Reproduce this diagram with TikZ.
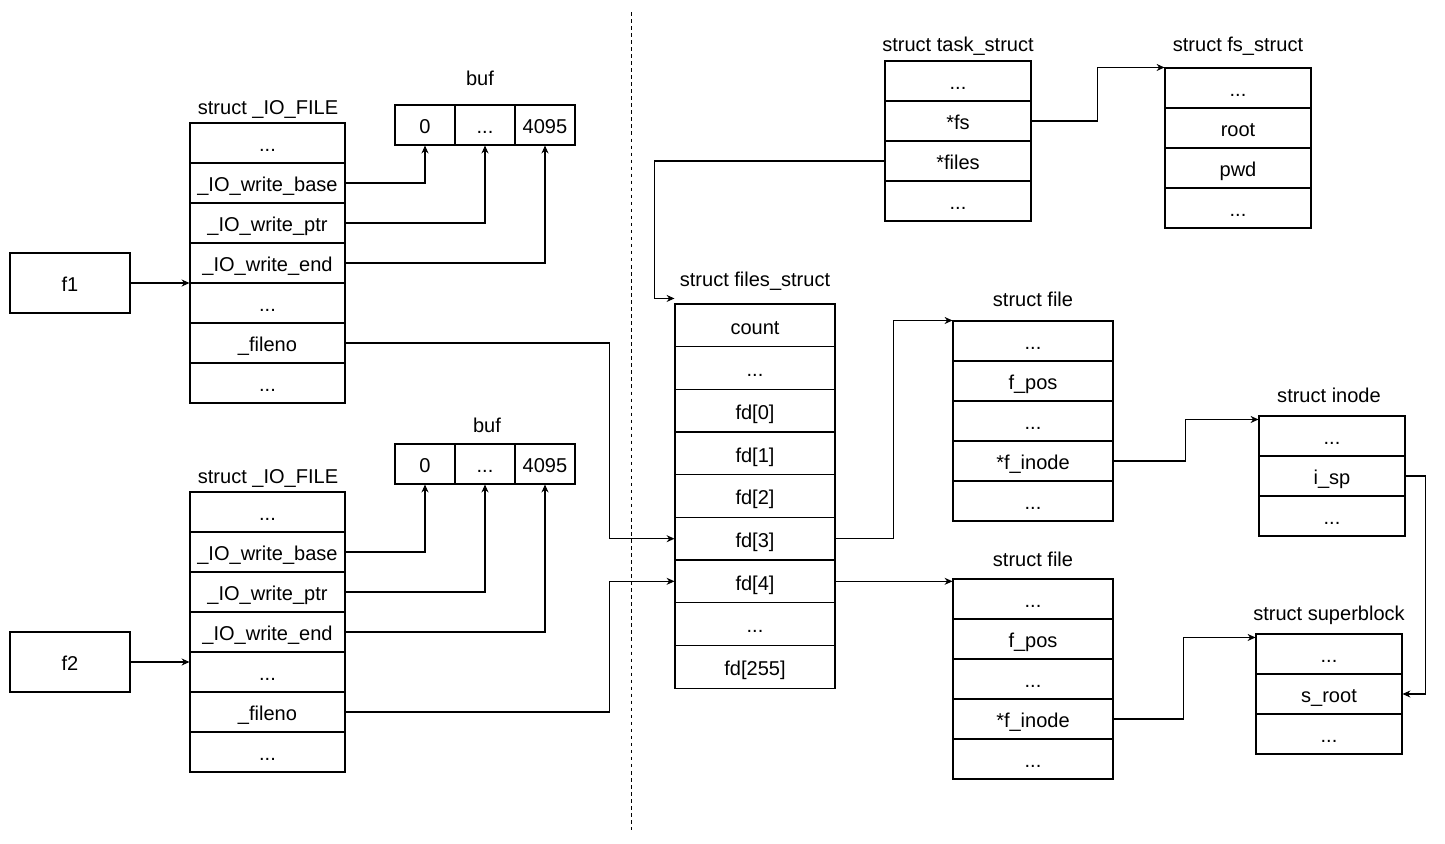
\documentclass[tikz,border=0pt]{standalone}
\usepackage{fontspec}
\setmainfont{Liberation Sans}
\usetikzlibrary{arrows.meta}

\begin{document}
\begin{tikzpicture}[x=0.02cm, y=-0.02cm, line width=0.6pt,
        font=\fontsize{11.4}{13}\selectfont,
        >={Stealth[length=4.5pt,width=4pt]},
        cell/.style = {draw, inner sep=0pt, minimum height=0.8cm, text height=10.4pt, text depth=0.5pt},
        iorow/.style = {cell, minimum width=3.1cm},
        bufcell/.style = {cell, minimum width=1.2cm},
        ptrbox/.style = {cell, minimum width=2.4cm, minimum height=1.2cm},
        taskrow/.style = {cell, minimum width=2.92cm},
        fdrow/.style = {cell, minimum width=3.2cm, minimum height=0.8533cm},
        filerow/.style = {cell, minimum width=3.2cm},
        title/.style = {inner sep=0pt, text height=8.2pt, text depth=0pt}]
        \useasboundingbox (0,0) rectangle (1445,843);
        % user space
        \node[ptrbox] (f1) at (70,283) {f1};
        \node[ptrbox] (f2) at (70,662) {f2};

        \node[title] (io1t) at (268,107.5) {struct \_IO\_FILE};
        \node[iorow] (io1-1) at (267.5,143) {...};
        \node[iorow] (io1-2) at (267.5,183) {\_IO\_write\_base};
        \node[iorow] (io1-3) at (267.5,223) {\_IO\_write\_ptr};
        \node[iorow] (io1-4) at (267.5,263) {\_IO\_write\_end};
        \node[iorow] (io1-5) at (267.5,303) {...};
        \node[iorow] (io1-6) at (267.5,343) {\_fileno};
        \node[iorow] (io1-7) at (267.5,383) {...};

        \node[title] (b1t) at (480,78) {buf};
        \node[bufcell] (b1-1) at (425,125) {0};
        \node[bufcell] (b1-2) at (485,125) {...};
        \node[bufcell] (b1-3) at (545,125) {4095};

        \node[title] (io2t) at (268,476) {struct \_IO\_FILE};
        \node[iorow] (io2-1) at (267.5,512) {...};
        \node[iorow] (io2-2) at (267.5,552) {\_IO\_write\_base};
        \node[iorow] (io2-3) at (267.5,592) {\_IO\_write\_ptr};
        \node[iorow] (io2-4) at (267.5,632) {\_IO\_write\_end};
        \node[iorow] (io2-5) at (267.5,672) {...};
        \node[iorow] (io2-6) at (267.5,712) {\_fileno};
        \node[iorow] (io2-7) at (267.5,752) {...};

        \node[title] (b2t) at (487,425) {buf};
        \node[bufcell] (b2-1) at (425,464) {0};
        \node[bufcell] (b2-2) at (485,464) {...};
        \node[bufcell] (b2-3) at (545,464) {4095};

        % kernel space
        \draw[dash pattern=on 2pt off 2pt, line width=0.5pt] (631,12) -- (631,830);

        \node[title] (tst) at (958,44) {struct task\_struct};
        \node[taskrow] (ts-1) at (958,81) {...};
        \node[taskrow] (ts-2) at (958,121) {*fs};
        \node[taskrow] (ts-3) at (958,161) {*files};
        \node[taskrow] (ts-4) at (958,201) {...};

        \node[title] (fst) at (1238,44) {struct fs\_struct};
        \node[taskrow] (fs-1) at (1238,88) {...};
        \node[taskrow] (fs-2) at (1238,128) {root};
        \node[taskrow] (fs-3) at (1238,168) {pwd};
        \node[taskrow] (fs-4) at (1238,208) {...};

        \node[title] (fsst) at (755,279) {struct files\_struct};
        \node[fdrow] (fss-1) at (755,325.3) {count};
        \node[fdrow] (fss-2) at (755,368) {...};
        \node[fdrow] (fd0) at (755,410.7) {fd[0]};
        \node[fdrow] (fd1) at (755,453.3) {fd[1]};
        \node[fdrow] (fd2) at (755,496) {fd[2]};
        \node[fdrow] (fd3) at (755,538.7) {fd[3]};
        \node[fdrow] (fd4) at (755,581.3) {fd[4]};
        \node[fdrow] (fss-8) at (755,624) {...};
        \node[fdrow] (fd255) at (755,666.7) {fd[255]};

        \node[title] (file1t) at (1033,299) {struct file};
        \node[filerow] (file1-1) at (1033,341) {...};
        \node[filerow] (file1-2) at (1033,381) {f\_pos};
        \node[filerow] (file1-3) at (1033,421) {...};
        \node[filerow] (file1-4) at (1033,461) {*f\_inode};
        \node[filerow] (file1-5) at (1033,501) {...};

        \node[title] (file2t) at (1033,559) {struct file};
        \node[filerow] (file2-1) at (1033,599) {...};
        \node[filerow] (file2-2) at (1033,639) {f\_pos};
        \node[filerow] (file2-3) at (1033,679) {...};
        \node[filerow] (file2-4) at (1033,719) {*f\_inode};
        \node[filerow] (file2-5) at (1033,759) {...};

        \node[title] (int) at (1329,395) {struct inode};
        \node[taskrow] (in-1) at (1332,436) {...};
        \node[taskrow] (in-2) at (1332,476) {i\_sp};
        \node[taskrow] (in-3) at (1332,516) {...};

        \node[title] (sbt) at (1329,613) {struct superblock};
        \node[taskrow] (sb-1) at (1329,654) {...};
        \node[taskrow] (sb-2) at (1329,694) {s\_root};
        \node[taskrow] (sb-3) at (1329,734) {...};

        \draw[->] (f1.east) -- (f1.east -| io1-5.west);
        \draw[->] (f2.east) -- (f2.east -| io2-5.west);
        \draw[->] (io1-2.east) -| (b1-1.south);
        \draw[->] (io1-3.east) -| (b1-2.south);
        \draw[->] (io1-4.east) -| (b1-3.south);
        \draw[->] (io2-2.east) -| (b2-1.south);
        \draw[->] (io2-3.east) -| (b2-2.south);
        \draw[->] (io2-4.east) -| (b2-3.south);
        \draw[->] (io1-6.east) -| ([xshift=-1.3cm]fd3.west) -- (fd3.west);
        \draw[->] (io2-6.east) -| ([xshift=-1.3cm]fd4.west) -- (fd4.west);
        \draw[->] (ts-2.east) -| ([xshift=-1.34cm]fs-1.north west) -- (fs-1.north west);
        \draw[->] (ts-3.west) -| ([xshift=-0.4cm,yshift=0.1cm]fss-1.north west) -- ([yshift=0.1cm]fss-1.north west);
        \draw[->] (fd3.east) -| ([xshift=-1.18cm]file1-1.north west) -- (file1-1.north west);
        \draw[->] (fd4.east) -- (fd4.east -| file2-1.west);
        \draw[->] (file1-4.east) -| ([xshift=-1.46cm,yshift=-0.08cm]in-1.north west) -- ([yshift=-0.08cm]in-1.north west);
        \draw[->] (file2-4.east) -| ([xshift=-1.44cm,yshift=-0.08cm]sb-1.north west) -- ([yshift=-0.08cm]sb-1.north west);
        \draw[->] (in-2.east) -- ++(0.4cm,0) |- (sb-2.east);
\end{tikzpicture}
\end{document}
